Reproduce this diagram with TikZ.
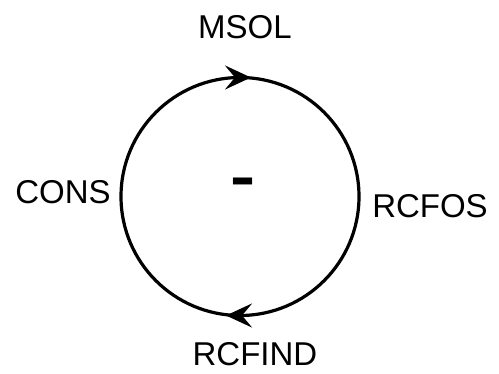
\documentclass[tikz,border=0pt]{standalone}
\usepackage{fontspec}
\setmainfont{Liberation Sans}
\usetikzlibrary{arrows.meta}
\begin{document}
\begin{tikzpicture}[x=1pt,y=-1pt,
  lbl/.style={inner sep=0pt,font=\fontsize{33}{38}\selectfont},
  loopline/.style={line width=3.2pt},
  flowtip/.style={-{Stealth[length=26pt,width=24pt,inset=10pt]},line width=3.2pt}]
  \useasboundingbox (0,0) rectangle (499,373);
  % feedback loop
  \coordinate (c) at (240,196.5);
  \draw[loopline] (c) circle[radius=119pt];
  % direction marks on the loop
  \coordinate (t0) at (236,77.5);
  \coordinate (t1) at (251,77.5);
  \coordinate (b0) at (241,315.5);
  \coordinate (b1) at (226,315.5);
  \draw[flowtip] (t0) -- (t1);
  \draw[flowtip] (b0) -- (b1);
  % loop polarity
  \node[inner sep=0pt,font=\fontsize{58}{60}\bfseries,xscale=1.3] (pol) at (243,187) {-};
  % variables
  \node[lbl] (msol) at (245,27) {MSOL};
  \node[lbl] (cons) at (63,192.5) {CONS};
  \node[lbl] (rcfos) at (430,206) {RCFOS};
  \node[lbl] (rcfind) at (255,354) {RCFIND};
\end{tikzpicture}
\end{document}
